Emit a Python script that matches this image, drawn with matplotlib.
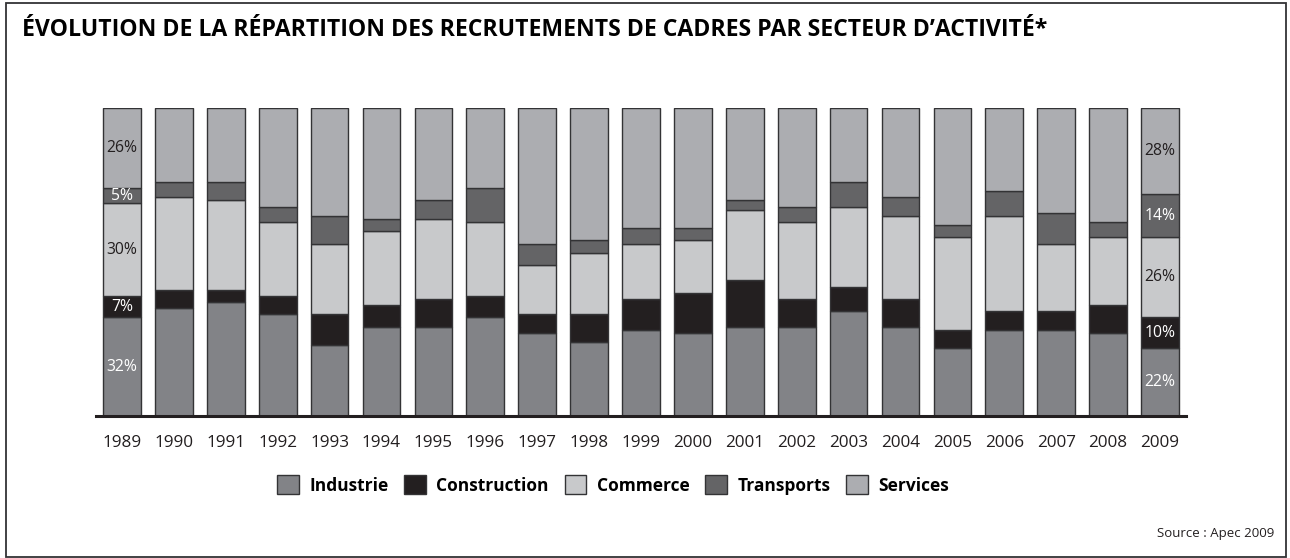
import matplotlib
matplotlib.use('Agg')
import matplotlib.pyplot as plt
from matplotlib.patches import Rectangle

plt.rcParams['font.family'] = ['Open Sans', 'DejaVu Sans']

years = ['1989', '1990', '1991', '1992', '1993', '1994', '1995', '1996', '1997', '1998',
         '1999', '2000', '2001', '2002', '2003', '2004', '2005', '2006', '2007', '2008', '2009']
industrie = [32, 35, 37, 33, 23, 29, 29, 32, 27, 24, 28, 27, 29, 29, 34, 29, 22, 28, 28, 27, 22]
construction = [7, 6, 4, 6, 10, 7, 9, 7, 6, 9, 10, 13, 15, 9, 8, 9, 6, 6, 6, 9, 10]
commerce = [30, 30, 29, 24, 23, 24, 26, 24, 16, 20, 18, 17, 23, 25, 26, 27, 30, 31, 22, 22, 26]
transports = [5, 5, 6, 5, 9, 4, 6, 11, 7, 4, 5, 4, 3, 5, 8, 6, 4, 8, 10, 5, 14]
services = [26, 24, 24, 32, 35, 36, 30, 26, 44, 43, 39, 39, 30, 32, 24, 29, 38, 27, 34, 37, 28]

series = [
    ('Industrie', industrie, '#828387', 'white'),
    ('Construction', construction, '#231f20', 'white'),
    ('Commerce', commerce, '#c8c9cb', '#231f20'),
    ('Transports', transports, '#646466', 'white'),
    ('Services', services, '#acadb1', '#231f20'),
]

W, H = 1290, 558
fig = plt.figure(figsize=(W / 100, H / 100), dpi=100)
fig.patch.set_facecolor('white')

# axes placed in pixel coords of the reference
ax = fig.add_axes([96 / W, (H - 416) / H, (1186 - 96) / W, (416 - 108) / H])
x = list(range(len(years)))
bottom = [0] * len(years)
handles = []
for name, vals, col, tcol in series:
    bars = ax.bar(x, vals, width=0.726, bottom=bottom, color=col,
                  edgecolor='#333335', linewidth=1.0, label=name, zorder=2)
    handles.append(bars)
    # percentage labels on first and last bar
    for i in (0, len(years) - 1):
        ax.text(i, bottom[i] + vals[i] / 2, f'{vals[i]}%', ha='center', va='center',
                fontsize=11.3, color=tcol, zorder=3)
    bottom = [b + v for b, v in zip(bottom, vals)]

ax.set_xlim(-0.5, 20.5)
ax.set_ylim(0, 100)
for s in ['left', 'right', 'top']:
    ax.spines[s].set_visible(False)
ax.spines['bottom'].set_linewidth(2.2)
ax.spines['bottom'].set_color('#231f20')
ax.spines['bottom'].set_zorder(4)
ax.set_yticks([])
ax.set_xticks(x)
ax.set_xticklabels(years, fontsize=12.3, color='#231f20')
ax.tick_params(axis='x', length=0, pad=14)

# title
fig.text(22 / W, 1 - 36 / H,
         'ÉVOLUTION DE LA RÉPARTITION DES RECRUTEMENTS DE CADRES PAR SECTEUR D’ACTIVITÉ*',
         ha='left', va='baseline', fontsize=16.6, fontweight='bold', color='#000000')

# legend
fig.legend(handles=handles, loc='center', bbox_to_anchor=(613 / W, 1 - 485 / H),
           ncol=5, frameon=False, prop={'size': 12.5, 'weight': 'bold'},
           handlelength=1.25, handleheight=1.25, handletextpad=0.6, columnspacing=0.9)

fig.text(1274 / W, 1 - 534 / H, 'Source : Apec 2009', ha='right', va='center',
         fontsize=9.5, color='#231f20')

# outer frame
fig.patches.append(Rectangle((5.5 / W, 1.5 / H), (1286 - 5.5) / W, (555 - 1.5) / H,
                             transform=fig.transFigure, fill=False,
                             edgecolor='#333335', linewidth=1.3))

fig.savefig('out.png', dpi=100, facecolor='white')
